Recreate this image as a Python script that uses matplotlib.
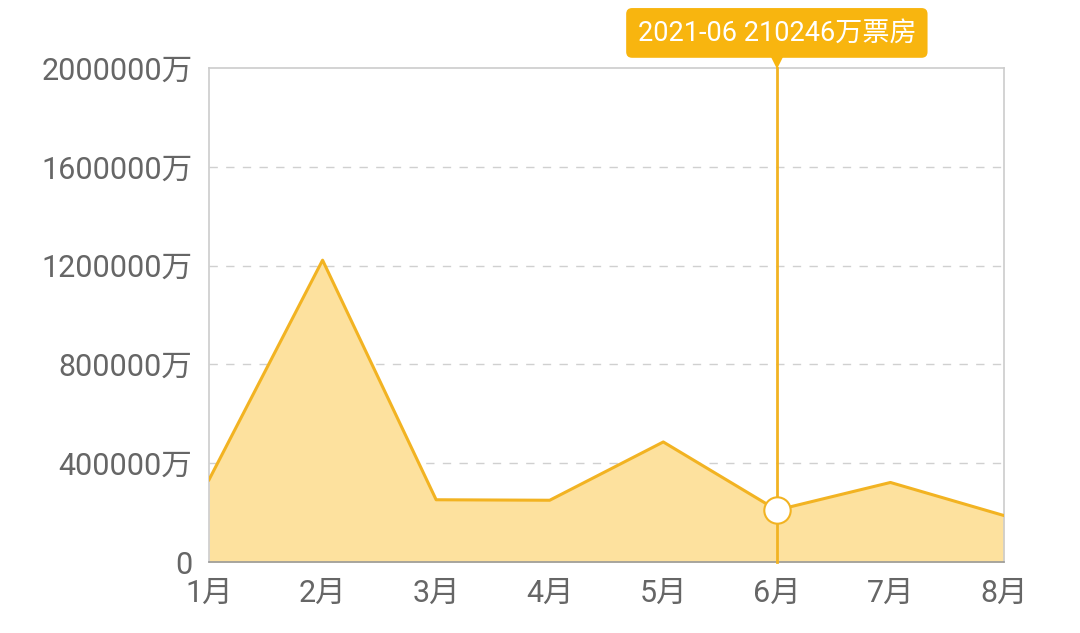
import matplotlib
matplotlib.use("Agg")
import matplotlib.pyplot as plt
import matplotlib.transforms as mtransforms

plt.rcParams['font.family'] = ['Roboto', 'Noto Sans CJK SC', 'DejaVu Sans']

months = ['1月', '2月', '3月', '4月', '5月', '6月', '7月', '8月']
box_office = [333000, 1222000, 252000, 250000, 486000, 210246, 322000, 188000]
y_ticks = [0, 400000, 800000, 1200000, 1600000, 2000000]
y_tick_labels = ['0', '400000万', '800000万', '1200000万', '1600000万', '2000000万']
highlight_index = 5
tooltip_text = '2021-06 210246万票房'

line_color = '#F2B322'
fill_color = '#FDE19E'
tip_color = '#F8B50F'

fig = plt.figure(figsize=(10.8, 6.33), dpi=100)
ax = fig.add_axes([209/1080, 1 - 562/633, (1004-209)/1080, (562-68)/633])

x = list(range(len(months)))
ax.fill_between(x, box_office, 0, color=fill_color, zorder=1, linewidth=0)
ax.plot(x, box_office, color=line_color, linewidth=2.2, zorder=3)

ax.set_xlim(0, len(months) - 1)
ax.set_ylim(0, 2000000)
ax.set_xticks(x)
ax.set_xticklabels(months)
ax.set_yticks(y_ticks)
ax.set_yticklabels(y_tick_labels)
ax.tick_params(axis='both', length=0, labelsize=22, colors='#666666')
ax.tick_params(axis='y', pad=12)
ax.tick_params(axis='x', pad=12)

for v in y_ticks[1:-1]:
    ax.axhline(v, color='#d0d0d0', linewidth=1, linestyle=(0, (6, 6)), zorder=0.5)

for side in ['top', 'right', 'left']:
    ax.spines[side].set_color('#cccccc')
    ax.spines[side].set_linewidth(1.2)
ax.spines['bottom'].set_color('#999999')
ax.spines['bottom'].set_linewidth(1.2)

# highlight vertical line
trans = mtransforms.blended_transform_factory(ax.transData, ax.transAxes)
ax.plot([highlight_index, highlight_index], [0, 1.0], transform=trans,
        color=line_color, linewidth=2, zorder=4, clip_on=False)
ax.plot([highlight_index], [box_office[highlight_index]], marker='o', markersize=19,
        markerfacecolor='white', markeredgecolor=line_color, markeredgewidth=1.5,
        zorder=5, clip_on=False)

# tooltip
ax.text(highlight_index, 1.071, tooltip_text, transform=trans, ha='center', va='center',
        fontsize=19.5, color='white', zorder=6,
        bbox=dict(boxstyle='round,pad=0.42,rounding_size=0.22', facecolor=tip_color,
                  edgecolor='none'))
ax.plot([highlight_index], [1.013], transform=trans, marker='v', markersize=10,
        color=tip_color, markeredgewidth=0, zorder=6, clip_on=False)

fig.savefig('out.png', dpi=100)
